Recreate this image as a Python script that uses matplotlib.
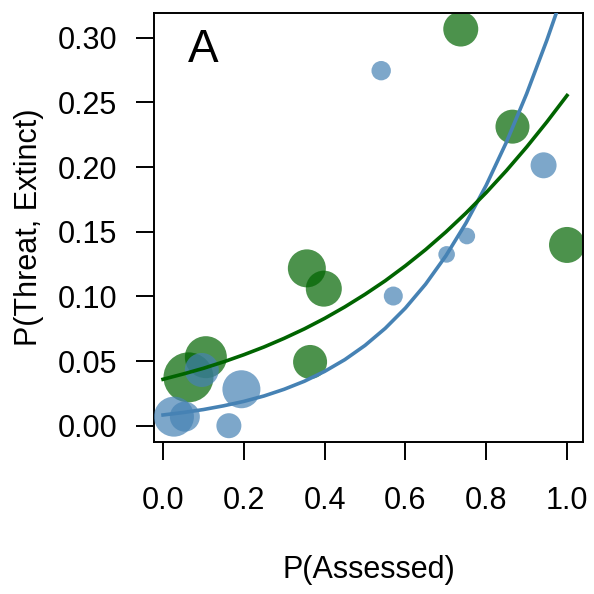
import numpy as np
import matplotlib
matplotlib.use("Agg")
import matplotlib.pyplot as plt

plt.rcParams["font.family"] = ["Liberation Sans", "DejaVu Sans"]

# -----------------------------
# Data
# -----------------------------
green_x = [0.063, 0.106, 0.356, 0.398, 0.364, 0.737, 0.865, 1.000]
green_y = [0.0374, 0.053, 0.1217, 0.106, 0.0493, 0.3068, 0.2313, 0.1398]
green_w = [2.5, 2.1, 1.9, 1.8, 1.7, 1.75, 1.7, 1.8]

blue_x = [0.027, 0.054, 0.096, 0.194, 0.163, 0.570, 0.942, 0.702, 0.752, 0.540]
blue_y = [0.007, 0.007, 0.0431, 0.0282, 0.0, 0.1003, 0.2014, 0.1325, 0.1467, 0.2746]
blue_w = [2.0, 1.5, 1.7, 1.9, 1.25, 0.95, 1.3, 0.83, 0.83, 0.97]

# fitted curves (logistic fits)
curve_x = [0.00, 0.05, 0.10, 0.15, 0.20, 0.25, 0.30, 0.35, 0.40, 0.45, 0.50,
           0.55, 0.60, 0.65, 0.70, 0.75, 0.80, 0.85, 0.90, 0.95, 1.00]
blue_fit = [0.0083, 0.0102, 0.0125, 0.0154, 0.0188, 0.0230, 0.0282, 0.0344,
            0.0420, 0.0511, 0.0621, 0.0753, 0.0910, 0.1095, 0.1313, 0.1568,
            0.1860, 0.2193, 0.2567, 0.2981, 0.3430]
green_fit = [0.0359, 0.0400, 0.0444, 0.0494, 0.0549, 0.0609, 0.0676, 0.0749,
             0.0830, 0.0919, 0.1016, 0.1121, 0.1237, 0.1362, 0.1498, 0.1645,
             0.1803, 0.1973, 0.2155, 0.2349, 0.2554]

x_ticks = [0.0, 0.2, 0.4, 0.6, 0.8, 1.0]
y_ticks = [0.00, 0.05, 0.10, 0.15, 0.20, 0.25, 0.30]

# -----------------------------
# Plot
# -----------------------------
fig = plt.figure(figsize=(5.94, 5.94), dpi=100)
ax = fig.add_axes([0.2593, 0.2564, 0.7222, 0.7217])

unit = 10 * 2 * 0.72  # bubble weight -> diameter in points
ax.scatter(green_x, green_y, s=(np.array(green_w) * unit) ** 2,
           color="darkgreen", alpha=0.7, linewidths=0, zorder=2)
ax.scatter(blue_x, blue_y, s=(np.array(blue_w) * unit) ** 2,
           color="steelblue", alpha=0.7, linewidths=0, zorder=3)
ax.plot(curve_x, blue_fit, color="steelblue", lw=2.6, zorder=4)
ax.plot(curve_x, green_fit, color="darkgreen", lw=2.6, zorder=5)

ax.set_xlim(-0.0223, 1.0396)
ax.set_ylim(-0.01237, 0.3192)
ax.set_xticks(x_ticks)
ax.set_xticklabels([f"{v:.1f}" for v in x_ticks])
ax.set_yticks(y_ticks)
ax.set_yticklabels([f"{v:.2f}" for v in y_ticks])
ax.tick_params(direction="out", length=13, width=1.4, labelsize=22, pad=13.5)
ax.tick_params(axis="x", pad=19)
for sp in ax.spines.values():
    sp.set_linewidth(1.4)

ax.text(0.115, 0.914, "A", transform=ax.transAxes, fontsize=33,
        ha="center", va="center")

fig.text(29 / 594, 0.617, "P(Threat, Extinct)", rotation=90,
         fontsize=22, ha="center", va="center")
fig.text(368.5 / 594, 0.040, "P(Assessed)", fontsize=22,
         ha="center", va="center")

fig.savefig("out.png", dpi=100)
